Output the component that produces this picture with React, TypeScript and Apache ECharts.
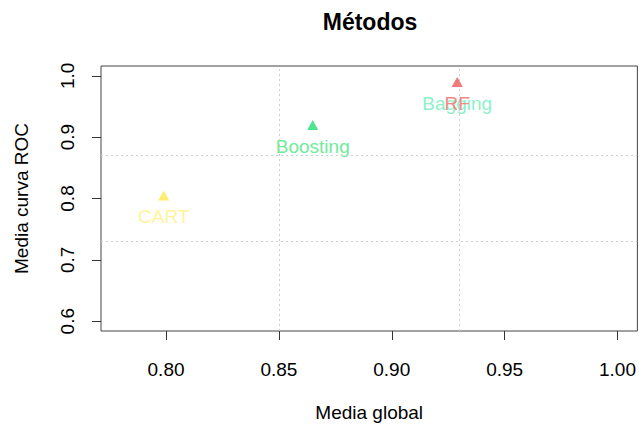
import React, { useEffect, useRef } from "react";
import * as echarts from "echarts";

const methods = ["CART", "Boosting", "Bagging", "RF"];
const mediaGlobal = [0.799, 0.865, 0.929, 0.929];
const mediaROC = [0.805, 0.92, 0.99, 0.99];
const markerColors = ["#FFEE6E", "#4FE38F", "#7FF2C6", "#F47A7A"];
const labelColors = ["#FFF39C", "#72EA9C", "#8CF1C9", "#F48888"];
const xTicks = [0.8, 0.85, 0.9, 0.95, 1.0];
const yTicks = [0.6, 0.7, 0.8, 0.9, 1.0];
const xLim = [0.78, 1.0];
const yLim = [0.6, 1.0];

const FONT = "'Liberation Sans', Arial, sans-serif";

function extend(lim: number[]) {
  const d = (lim[1] - lim[0]) * 0.04;
  return [lim[0] - d, lim[1] + d];
}

export default function App() {
  const ref = useRef<HTMLDivElement>(null);
  useEffect(() => {
    if (!ref.current) return;
    const chart = echarts.init(ref.current, null, { renderer: "svg" });
    const xr = extend(xLim);
    const yr = extend(yLim);
    const xGrid = [1, 2].map((k) => xr[0] + ((xr[1] - xr[0]) * k) / 3);
    const yGrid = [1, 2].map((k) => yr[0] + ((yr[1] - yr[0]) * k) / 3);

    const series: any[] = methods.map((m, i) => ({
      type: "scatter",
      name: m,
      symbol: "triangle",
      symbolSize: [11, 10],
      z: 3 + i,
      itemStyle: { color: markerColors[i], opacity: 1 },
      label: {
        show: true,
        position: "bottom",
        distance: 7,
        formatter: m,
        color: labelColors[i],
        fontSize: 19,
        fontFamily: FONT,
      },
      data: [[mediaGlobal[i], mediaROC[i]]],
    }));
    series.push({
      type: "scatter",
      data: [],
      silent: true,
      z: 1,
      markLine: {
        silent: true,
        symbol: "none",
        animation: false,
        label: { show: false },
        lineStyle: { color: "#cfcfcf", type: [2, 3], width: 1 },
        data: [
          ...xGrid.map((v) => ({ xAxis: v })),
          ...yGrid.map((v) => ({ yAxis: v })),
        ],
      },
    });

    chart.setOption({
      animation: false,
      backgroundColor: "#ffffff",
      title: {
        text: "Métodos",
        left: 370,
        textAlign: "center",
        top: 10,
        padding: 0,
        textStyle: { fontSize: 23, fontWeight: "bold", color: "#000", fontFamily: FONT },
      },
      grid: {
        left: 101,
        top: 66,
        width: 539,
        height: 267,
        show: true,
        borderColor: "#444",
        borderWidth: 1,
        backgroundColor: "transparent",
      },
      xAxis: {
        type: "value",
        min: xr[0],
        max: xr[1],
        name: "Media global",
        nameLocation: "middle",
        nameGap: 72,
        nameTextStyle: { fontSize: 19, color: "#000", fontFamily: FONT },
        axisLine: { show: false },
        splitLine: { show: false },
        axisTick: {
          show: true,
          length: 9,
          customValues: xTicks,
          lineStyle: { color: "#333", width: 1 },
        },
        axisLabel: {
          customValues: xTicks,
          margin: 29,
          fontSize: 19,
          color: "#000",
          fontFamily: FONT,
          formatter: (v: number) => v.toFixed(2),
        },
      },
      yAxis: {
        type: "value",
        min: yr[0],
        max: yr[1],
        name: "Media curva ROC",
        nameLocation: "middle",
        nameGap: 70,
        nameRotate: 90,
        nameTextStyle: { fontSize: 19, color: "#000", fontFamily: FONT },
        axisLine: { show: false },
        splitLine: { show: false },
        axisTick: {
          show: true,
          length: 9,
          customValues: yTicks,
          lineStyle: { color: "#333", width: 1 },
        },
        axisLabel: {
          customValues: yTicks,
          rotate: 90,
          margin: 24,
          fontSize: 19,
          color: "#000",
          fontFamily: FONT,
          formatter: (v: number) => v.toFixed(1),
        },
      },
      series,
    });
    return () => chart.dispose();
  }, []);
  return (
    <div
      ref={ref}
      style={{ position: "fixed", left: 0, top: 0, width: 639, height: 427, background: "#fff" }}
    />
  );
}
